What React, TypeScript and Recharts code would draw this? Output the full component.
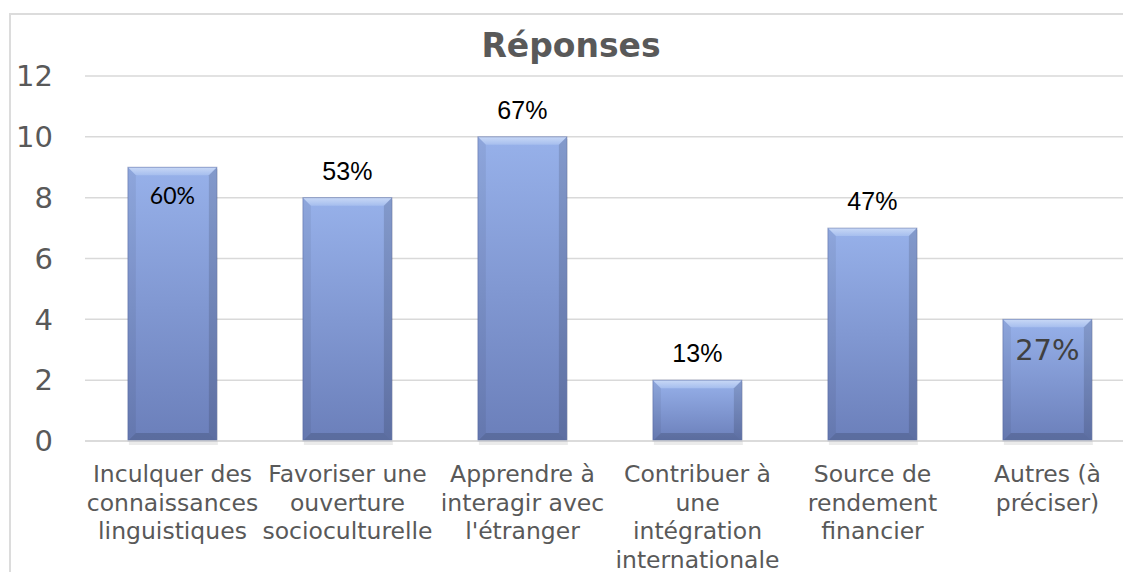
import React from 'react';
import { BarChart, Bar, XAxis, YAxis, CartesianGrid, LabelList } from 'recharts';

const categories = [
  "Inculquer des\nconnaissances\nlinguistiques",
  "Favoriser une\nouverture\nsocioculturelle",
  "Apprendre à\ninteragir avec\nl'étranger",
  "Contribuer à\nune\nintégration\ninternationale",
  "Source de\nrendement\nfinancier",
  "Autres (à\npréciser)",
];
const responses = [9, 8, 10, 2, 7, 4];
const percentLabels = ["60%", "53%", "67%", "13%", "47%", "27%"];
const yTicks = [0, 2, 4, 6, 8, 10, 12];
const chartTitle = "Réponses";

const data = categories.map((c, i) => ({ category: c, value: responses[i], pct: percentLabels[i] }));

// label look per bar (style only)
const ARIAL = '"Liberation Sans", Arial, sans-serif';
const labelStyles = [
  { font: 'Lato, sans-serif', size: 23, color: '#000000', dy: 37 },
  { font: ARIAL, size: 25, color: '#000000', dy: -18 },
  { font: ARIAL, size: 25, color: '#000000', dy: -18 },
  { font: ARIAL, size: 25, color: '#000000', dy: -18 },
  { font: ARIAL, size: 25, color: '#000000', dy: -18 },
  { font: '"DejaVu Sans", Verdana, sans-serif', size: 29, color: '#404040', dy: 41 },
];

const GRID = '#D9D9D9';
const TEXT = '#595959';

const BevelBar = (props: any) => {
  const { x, y, width: w, height: h, index } = props;
  if (!h || h <= 0) return null;
  const b = Math.min(8, h / 2, w / 2);
  const id = `bb${index}`;
  return (
    <g>
      <defs>
        <linearGradient id={`${id}body`} x1="0" y1="0" x2="0" y2="1">
          <stop offset="0%" stopColor="#97B1EA" />
          <stop offset="100%" stopColor="#6B7FBA" />
        </linearGradient>
        <linearGradient id={`${id}top`} x1="0" y1="0" x2="0" y2="1">
          <stop offset="0%" stopColor="#C8D8F6" />
          <stop offset="100%" stopColor="#A6BEEE" />
        </linearGradient>
      </defs>
      <rect x={x + 1} y={y + 2} width={w} height={h + 2} fill="#000" opacity={0.08} />
      <rect x={x} y={y} width={w} height={h} fill={`url(#${id}body)`} />
      <polygon points={`${x},${y} ${x + w},${y} ${x + w - b},${y + b} ${x + b},${y + b}`} fill={`url(#${id}top)`} />
      <polygon points={`${x},${y} ${x + b},${y + b} ${x + b},${y + h - b} ${x},${y + h}`} fill="#000" opacity={0.06} />
      <polygon points={`${x + w},${y} ${x + w - b},${y + b} ${x + w - b},${y + h - b} ${x + w},${y + h}`} fill="#000" opacity={0.13} />
      <polygon points={`${x},${y + h} ${x + b},${y + h - b} ${x + w - b},${y + h - b} ${x + w},${y + h}`} fill="#000" opacity={0.15} />
      <rect x={x} y={y} width={w} height={h} fill="none" stroke="#4A5C94" strokeOpacity={0.45} strokeWidth={1} />
    </g>
  );
};

const XTick = (props: any) => {
  const { x, y, payload } = props;
  const lines = String(payload.value).split('\n');
  return (
    <text x={x} y={y} textAnchor="middle" fill={TEXT} fontFamily='"DejaVu Sans", Verdana, sans-serif' fontSize={23.5}>
      {lines.map((l, i) => (
        <tspan key={i} x={x} dy={i === 0 ? 41 : 28.6}>{l}</tspan>
      ))}
    </text>
  );
};

const PctLabel = (props: any) => {
  const { x, y, width, value, index } = props;
  let i = typeof index === 'number' ? index : percentLabels.indexOf(String(value));
  if (i < 0) i = 0;
  const s = labelStyles[i];
  return (
    <text x={Number(x) + Number(width) / 2} y={Number(y) + s.dy} textAnchor="middle" fill={s.color} fontFamily={s.font} fontSize={s.size}>
      {value}
    </text>
  );
};

export default function App() {
  return (
    <div style={{ position: 'absolute', left: 0, top: 0, width: 1123, height: 572, overflow: 'hidden', background: '#fff' }}>
      <div style={{ position: 'absolute', left: 9, top: 13, width: 1300, height: 800, border: `2px solid #DCDCDC`, boxSizing: 'border-box' }} />
      <div style={{ position: 'absolute', left: 0, top: 0 }}>
        <BarChart width={1180} height={600} data={data} margin={{ top: 76, right: 45, bottom: 0, left: 0 }} barCategoryGap="24.5%">
          <CartesianGrid vertical={false} stroke={GRID} strokeWidth={1.5} />
          <XAxis dataKey="category" interval={0} tick={<XTick />} tickLine={false} tickSize={0} tickMargin={0} axisLine={{ stroke: GRID, strokeWidth: 1.5 }} height={159} />
          <YAxis domain={[0, 12]} ticks={yTicks} width={85} axisLine={false} tickLine={false} tickSize={0} tickMargin={32}
            tick={{ fill: TEXT, fontSize: 29, fontFamily: '"DejaVu Sans", Verdana, sans-serif' }} />
          <Bar dataKey="value" isAnimationActive={false} shape={<BevelBar />}>
            <LabelList dataKey="pct" content={<PctLabel />} />
          </Bar>
        </BarChart>
      </div>
      <svg width={1123} height={572} style={{ position: 'absolute', left: 0, top: 0, pointerEvents: 'none' }}>
        <text x={571} y={57} textAnchor="middle" fill={TEXT} fontFamily='"DejaVu Sans", Verdana, sans-serif' fontWeight="bold" fontSize={33}>
          {chartTitle}
        </text>
      </svg>
    </div>
  );
}
